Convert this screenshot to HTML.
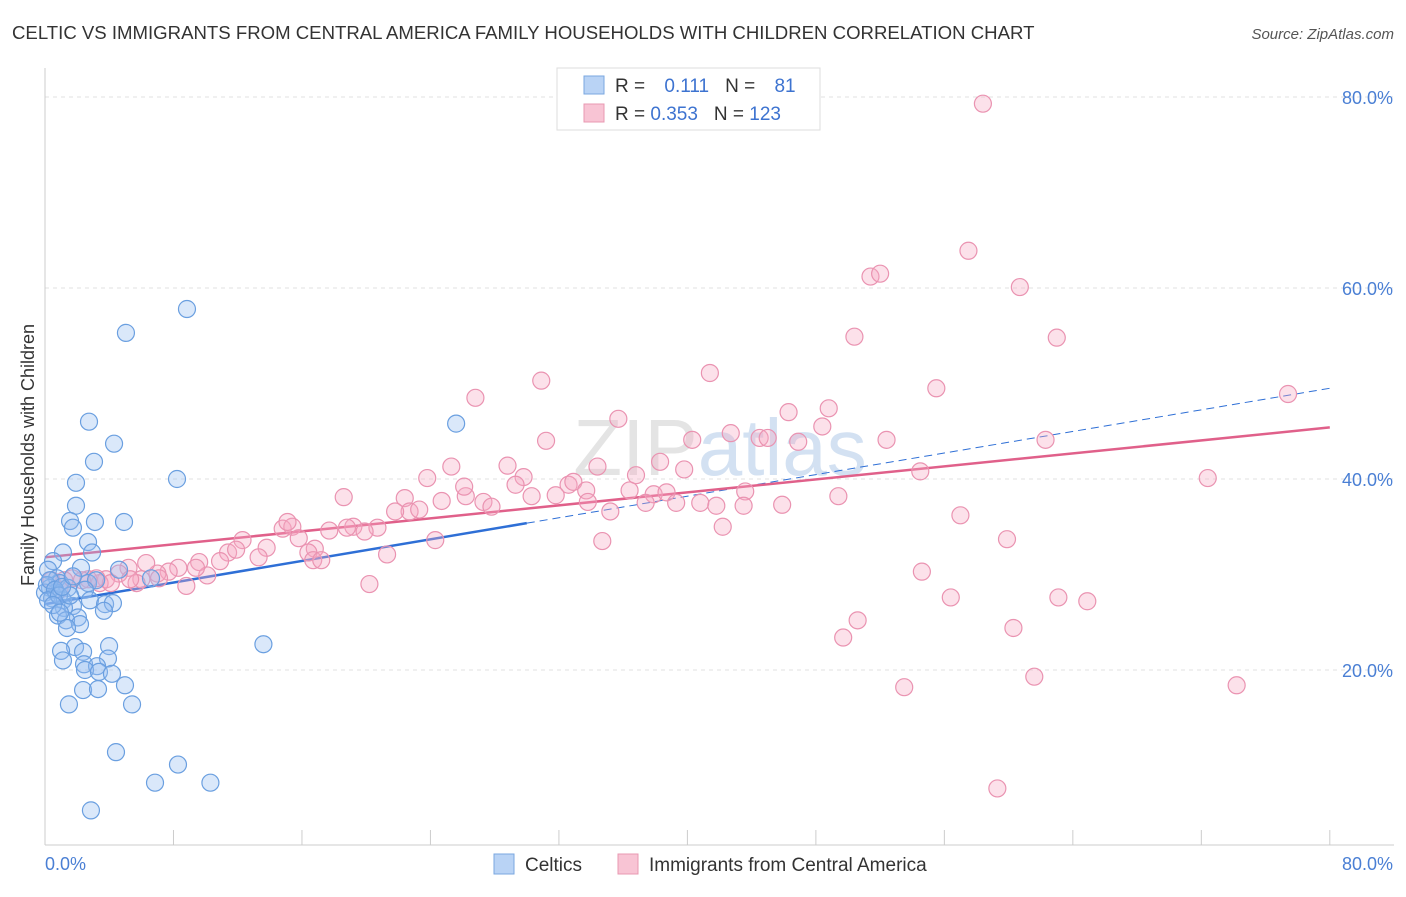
<!DOCTYPE html>
<html><head><meta charset="utf-8"><style>
body{margin:0;background:#fff;font-family:"Liberation Sans",sans-serif;}
svg text{font-family:"Liberation Sans",sans-serif;}
</style></head><body>
<svg id="chart" width="1406" height="892">
<text x="12" y="39" font-size="18.6" fill="#333">CELTIC VS IMMIGRANTS FROM CENTRAL AMERICA FAMILY HOUSEHOLDS WITH CHILDREN CORRELATION CHART</text>
<text x="1394" y="39" font-size="15" fill="#555" text-anchor="end" font-style="italic">Source: ZipAtlas.com</text>
<text x="720" y="475" font-size="80" fill="#e4e4e4" text-anchor="middle" font-family="Liberation Serif">ZIP<tspan fill="#d3e1f2" font-family="Liberation Sans">atlas</tspan></text>
<text transform="translate(34,455) rotate(-90)" font-size="18" fill="#333" text-anchor="middle">Family Households with Children</text>
<g id="grid"></g><g id="axes"></g><g id="trends"></g><g id="pts"></g>
<g>
<rect x="557" y="68" width="263" height="62" fill="#fff" stroke="#ddd"/>
<rect x="584" y="76" width="20" height="18" fill="#b9d3f5" stroke="#7aa7e0"/>
<text x="615" y="92" font-size="19" fill="#333">R = <tspan fill="#3d73d0" dx="14">0.111</tspan><tspan dx="16" fill="#333">N = </tspan><tspan fill="#3d73d0" dx="14">81</tspan></text>
<rect x="584" y="104" width="20" height="18" fill="#f8c4d4" stroke="#e898b2"/>
<text x="615" y="120" font-size="19" fill="#333">R = <tspan fill="#3d73d0">0.353</tspan><tspan dx="16" fill="#333">N = </tspan><tspan fill="#3d73d0">123</tspan></text>
</g>
<g>
<rect x="494" y="854" width="20" height="20" fill="#b9d3f5" stroke="#7aa7e0"/>
<text x="525" y="871" font-size="19" fill="#333">Celtics</text>
<rect x="618" y="854" width="20" height="20" fill="#f8c4d4" stroke="#e898b2"/>
<text x="649" y="871" font-size="19" fill="#333">Immigrants from Central America</text>
</g>
</svg>
<script>
const yTicks=[20,40,60,80];
const xTickLabels=["0.0%","80.0%"];
const celticX=[5.04,8.84,2.74,4.30,3.05,8.22,1.93,1.93,1.56,3.11,4.92,1.74,2.68,1.12,2.93,0.50,2.24,0.19,0.75,4.61,6.60,2.68,3.18,0.93,0.31,1.43,2.49,0.68,0,0.44,1.12,2.80,1.74,3.74,4.23,1.18,3.67,0.81,2.05,1.31,2.18,1.37,3.99,1.87,2.37,1.00,1.12,3.92,2.43,3.24,2.49,3.36,4.17,4.98,2.37,3.30,1.49,5.42,13.6,25.6,4.42,6.85,8.28,10.3,2.86,0.12,0.31,0.62,0.19,0.87,1.56,1.06,0.5,0.93,1.74];
const celticY=[55.3,57.8,46.0,43.7,41.8,40.0,39.6,37.2,35.6,35.5,35.5,34.9,33.4,32.3,32.3,31.4,30.7,30.5,29.6,30.5,29.6,29.1,29.4,29.1,28.6,28.6,28.4,28.1,28.1,27.5,27.3,27.3,26.7,26.9,27.0,26.5,26.2,25.7,25.5,25.2,24.8,24.4,22.5,22.4,21.9,22.0,21.0,21.2,20.6,20.4,20.0,19.8,19.6,18.4,17.9,18.0,16.4,16.4,22.7,45.8,11.4,8.2,10.1,8.2,5.3,28.9,29.4,28.4,27.3,27.8,27.8,28.7,26.8,26.0,29.8];
const immX=[58.4,57.5,60.7,51.4,52.0,50.4,63.0,41.4,30.9,55.5,26.8,35.7,77.4,48.8,46.3,48.4,42.7,31.2,40.3,44.5,45.0,46.9,52.4,62.3,23.8,25.3,28.8,29.8,34.4,38.3,39.8,36.8,29.3,26.2,26.1,27.3,27.8,24.7,32.6,32.9,30.3,31.8,33.7,36.4,37.9,38.7,37.4,39.3,33.8,35.2,40.8,41.8,43.6,43.5,45.9,49.4,54.5,72.4,22.4,22.7,21.8,23.3,24.3,20.7,19.2,18.8,17.7,19.9,18.6,14.8,15.4,15.8,16.8,15.1,16.4,13.8,12.3,11.4,11.9,13.3,10.9,9.6,10.1,9.4,8.3,8.8,7.7,7.0,6.3,6.0,5.2,5.7,4.6,3.8,3.4,2.7,1.7,1.2,0.9,0.4,16.7,17.2,21.3,20.2,34.7,42.2,57.0,59.9,54.6,56.4,63.1,64.9,60.3,50.6,49.7,61.6,53.5,74.2,59.3,4.1,2.3,3.2,5.3,7.1];
const immY=[79.3,63.9,60.1,61.2,61.5,54.9,54.8,51.1,50.3,49.5,48.5,46.3,48.9,47.4,47.0,45.5,44.8,44.0,44.1,44.3,44.3,43.9,44.1,44.1,40.1,41.3,41.4,40.2,41.3,41.8,41.0,40.4,39.4,38.2,39.2,37.6,37.1,37.7,39.4,39.7,38.2,38.3,38.8,38.8,38.4,38.6,37.5,37.5,37.6,36.6,37.5,37.2,38.7,37.2,37.3,38.2,40.8,40.1,38.0,36.6,36.6,36.8,33.6,34.9,35.0,34.9,34.6,34.5,38.1,34.8,35.0,33.8,32.7,35.5,32.3,32.8,33.6,32.3,32.6,31.8,31.4,31.3,29.9,30.7,30.7,28.8,30.3,30.1,31.2,29.5,30.7,29.1,30.1,29.5,29.1,29.5,29.6,29.4,28.4,29.4,31.5,31.5,32.1,29.0,33.5,35.0,36.2,33.7,30.3,27.6,27.6,27.2,24.4,25.2,23.4,19.3,18.2,18.4,7.6,29.1,29.4,29.6,29.5,29.6];
const celticTrend=[26.9,49.5];const celticSolidEnd=30.0;
const immTrend=[31.8,45.4];
const X=v=>45+v*16.06, Y=v=>861-v*9.55;
const NS="http://www.w3.org/2000/svg";
function mk(tag,attrs,parent){const e=document.createElementNS(NS,tag);for(const k in attrs)e.setAttribute(k,attrs[k]);document.getElementById(parent).appendChild(e);return e;}
yTicks.forEach(t=>{
 const l=mk('line',{x1:45,x2:1394,y1:Y(t),y2:Y(t),stroke:'#e2e2e2','stroke-dasharray':'4,4'},'grid');
 
 
 const tx=mk('text',{x:1393,y:Y(t)+7,'font-size':18,fill:'#4a7fd4','text-anchor':'end'},'grid');
 tx.textContent=t.toFixed(1)+'%';
 
 
});
const ax=mk('line',{x1:45,x2:1394,y1:845,y2:845,stroke:'#ccc'},'axes');


const ay=mk('line',{x1:45,x2:45,y1:68,y2:845,stroke:'#ccc'},'axes');


for(let i=0;i<=10;i++){const t=mk('line',{x1:X(i*8),x2:X(i*8),y1:830,y2:845,stroke:'#ccc'},'axes');
 
 }
const xl0=mk('text',{x:45,y:870,'font-size':18,fill:'#4a7fd4'},'axes');xl0.textContent=xTickLabels[0];


const xl1=mk('text',{x:1393,y:870,'font-size':18,fill:'#4a7fd4','text-anchor':'end'},'axes');xl1.textContent=xTickLabels[1];


const lin=(tr,x)=>tr[0]+(tr[1]-tr[0])*x/80;
const ts=mk('line',{x1:X(0),y1:Y(lin(celticTrend,0)),x2:X(celticSolidEnd),y2:Y(lin(celticTrend,celticSolidEnd)),stroke:'#2e6fd6','stroke-width':2.5},'trends');


const td=mk('line',{x1:X(celticSolidEnd),y1:Y(lin(celticTrend,celticSolidEnd)),x2:X(80),y2:Y(lin(celticTrend,80)),stroke:'#2e6fd6','stroke-width':1,'stroke-dasharray':'8,5'},'trends');


const ti=mk('line',{x1:X(0),y1:Y(lin(immTrend,0)),x2:X(80),y2:Y(lin(immTrend,80)),stroke:'#e0608a','stroke-width':2.5},'trends');


immX.forEach((x,i)=>{const c=mk('circle',{cx:X(x),cy:Y(immY[i]),r:8.5,fill:'rgba(245,170,195,0.35)',stroke:'#ea93b1','stroke-width':1.2},'pts');
 
 });
celticX.forEach((x,i)=>{const c=mk('circle',{cx:X(x),cy:Y(celticY[i]),r:8.5,fill:'rgba(150,190,240,0.35)',stroke:'#6a9fe0','stroke-width':1.2},'pts');
 
 });
</script>
</body></html>
